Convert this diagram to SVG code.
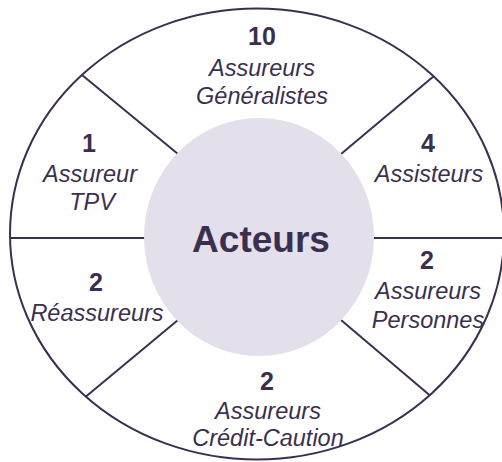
<svg xmlns="http://www.w3.org/2000/svg" width="502" height="462" viewBox="0 0 502 462">
<style>
.ln{stroke:#3b2f50;stroke-width:2;fill:none}
.num{font-family:"Liberation Sans",Arial,sans-serif;font-weight:bold;font-size:25px;fill:#3b2f50;text-anchor:middle}
.lbl{font-family:"Liberation Sans",Arial,sans-serif;font-style:italic;font-size:23.5px;fill:#3b2f50;text-anchor:middle}
.ctr{font-family:"Liberation Sans",Arial,sans-serif;font-weight:bold;font-size:37px;fill:#3b2f50;text-anchor:middle}
</style>
<rect width="502" height="462" fill="#ffffff"/>
<g id="outer">
<ellipse class="ln" cx="257" cy="234" rx="247" ry="225.5"/>
</g>
<g id="connectors">
<line class="ln" x1="178" y1="154" x2="82" y2="75"/>
<line class="ln" x1="341" y1="154" x2="434" y2="76"/>
<line class="ln" x1="178" y1="320" x2="86" y2="396.6"/>
<line class="ln" x1="341" y1="320" x2="430" y2="395.5"/>
<line class="ln" x1="10" y1="238" x2="145" y2="238"/>
<line class="ln" x1="373" y1="238" x2="502" y2="238"/>
</g>
<g id="center">
<ellipse cx="259" cy="237" rx="115" ry="119" fill="#e3dfeb"/>
<text class="ctr" x="261" y="252">Acteurs</text>
</g>
<g id="generalistes">
<text class="num" x="262" y="45">10</text>
<text class="lbl" x="262" y="76">Assureurs</text>
<text class="lbl" x="262" y="104">Généralistes</text>
</g>
<g id="tpv">
<text class="num" x="89" y="152">1</text>
<text class="lbl" x="90" y="182">Assureur</text>
<text class="lbl" x="92" y="210">TPV</text>
</g>
<g id="assisteurs">
<text class="num" x="428" y="152">4</text>
<text class="lbl" x="429" y="182">Assisteurs</text>
</g>
<g id="reassureurs">
<text class="num" x="96" y="291">2</text>
<text class="lbl" x="97" y="321">Réassureurs</text>
</g>
<g id="personnes">
<text class="num" x="427" y="269">2</text>
<text class="lbl" x="428" y="299">Assureurs</text>
<text class="lbl" x="428" y="328">Personnes</text>
</g>
<g id="credit">
<text class="num" x="267" y="390">2</text>
<text class="lbl" x="268" y="419">Assureurs</text>
<text class="lbl" x="268" y="446">Crédit-Caution</text>
</g>
</svg>
